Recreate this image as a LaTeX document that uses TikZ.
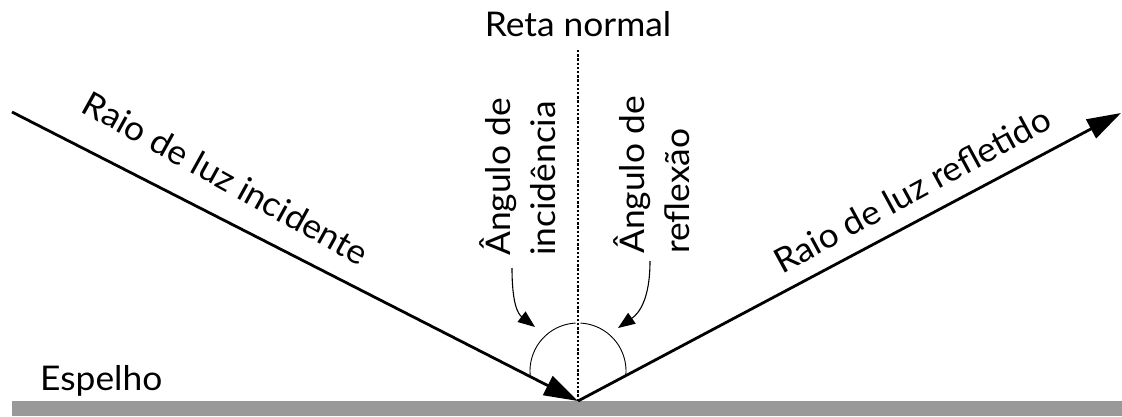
\documentclass[tikz,border=0pt]{standalone}
\usepackage{fontspec}
\setmainfont{Lato}[FakeStretch=1.04]
\usetikzlibrary{arrows.meta,calc}
\definecolor{mirrorgray}{HTML}{999999}
\tikzset{
  ray/.style={line width=2.8pt, -{Triangle[length=34pt,width=21pt]}},
  normalline/.style={line width=2.4pt, dash pattern=on 2.4pt off 1.8pt},
  anglearc/.style={line width=0.9pt},
  pointer/.style={line width=1.1pt, -{Triangle[length=17pt,width=13pt]}},
  lbl/.style={font=\fontsize{34}{45}\selectfont, inner sep=0pt},
}
\begin{document}
\begin{tikzpicture}[x=1pt,y=1pt]
  \useasboundingbox (0,0) rectangle (1122,416);
  % mirror
  \fill[mirrorgray] (12,0) rectangle (1122,15);
  \node[lbl, anchor=base west] (mirror) at (40,26) {Espelho};

  % key points
  \coordinate (O) at (578,15);
  \coordinate (A) at (12,304);
  \coordinate (B) at (1121,303);
  \coordinate (N) at (578,367);
  \coordinate (C) at (578,45);

  % normal line
  \draw[normalline] (O) -- (N);
  \node[lbl] (normal) at (578,392) {Reta normal};

  % angle arcs
  \draw[anglearc] ($(C)+(185:48)$) arc[start angle=185, end angle=93, radius=48];
  \draw[anglearc] ($(C)+(87:48)$) arc[start angle=87, end angle=-5, radius=48];

  % rays
  \draw[ray] (A) -- (O);
  \draw[ray] (O) -- (B);
  \node[lbl, rotate=-29] (inc) at (226,238) {Raio de luz incidente};
  \node[lbl, rotate=28.5] (ref) at (912,226) {Raio de luz refletido};

  % angle labels
  \node[lbl, rotate=90, anchor=west, align=left] (incang) at (518,160) {Ângulo de\\incidência};
  \node[lbl, rotate=90, anchor=west, align=left] (refang) at (652,162) {Ângulo de\\reflexão};

  % pointers to the angles
  \coordinate (p1) at (512,148);
  \coordinate (t1) at (535,89);
  \coordinate (p2) at (650,155);
  \coordinate (t2) at (618,88);
  \draw[pointer] (p1) .. controls (512,112) and (518,102) .. (t1);
  \draw[pointer] (p2) .. controls (650,115) and (638,102) .. (t2);
\end{tikzpicture}
\end{document}
